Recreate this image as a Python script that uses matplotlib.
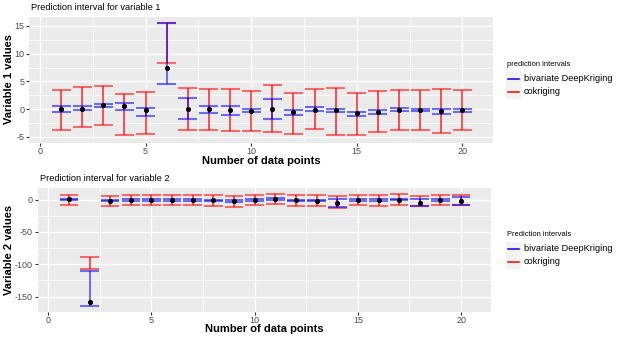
import matplotlib.pyplot as plt
import numpy as np

plt.rcParams['font.family'] = ['Liberation Sans', 'DejaVu Sans']
plt.rcParams['axes.unicode_minus'] = False

# dane
x = np.arange(1, 21)

# zmienna 1
dk1_lo = [-0.6, -0.2, 0.4, -0.2, -1.2, 4.6, -1.8, -0.7, -1.0, -0.6,
          -1.8, -1.0, -0.4, -0.5, -1.3, -0.8, -0.4, -0.3, -0.8, -0.5]
dk1_hi = [0.6, 0.5, 1.0, 1.1, 0.2, 15.5, 2.0, 0.6, 0.5, 0.0,
          1.8, -0.2, 0.4, 0.1, -0.5, -0.1, 0.2, 0.0, 0.1, 0.1]
ck1_lo = [-3.8, -3.2, -2.9, -4.7, -4.5, 8.4, -3.7, -3.8, -3.9, -3.9,
          -4.1, -4.4, -3.6, -4.6, -4.6, -4.2, -3.7, -3.7, -4.3, -3.8]
ck1_hi = [3.5, 4.0, 4.2, 2.7, 3.1, 15.5, 3.8, 3.7, 3.6, 3.3,
          4.3, 2.9, 3.6, 3.8, 2.9, 3.3, 3.4, 3.4, 3.6, 3.5]
pred1 = [0.0, 0.1, 0.7, 0.6, -0.1, 7.4, 0.0, 0.0, -0.1, -0.3,
         0.0, -0.6, -0.1, -0.2, -0.7, -0.5, -0.1, -0.2, -0.3, -0.2]

# zmienna 2
dk2_lo = [-1.0, -164.5, -2.0, -1.5, -1.5, -1.5, -1.5, -2.1, -3.6, -1.5,
          -0.5, -2.1, -2.1, -11.3, -1.5, -1.5, -1.0, -9.8, -1.5, -8.8]
dk2_hi = [1.0, -110.0, -0.5, 0.5, 1.5, 1.0, 1.0, 0.0, -0.5, 0.5,
          2.1, 0.0, 0.0, 1.5, 1.0, 0.5, 1.5, 1.5, 1.0, 4.1]
ck2_lo = [-8.8, -108.0, -10.3, -8.8, -8.2, -8.8, -8.2, -9.8, -11.8, -8.8,
          -7.2, -10.3, -10.3, -12.4, -8.8, -9.3, -7.7, -9.3, -8.8, -8.8]
ck2_hi = [7.7, -89.6, 6.2, 7.2, 7.7, 7.2, 7.7, 7.2, 5.2, 7.2,
          9.3, 6.7, 6.7, 5.2, 7.7, 7.2, 8.2, 5.7, 7.2, 7.2]
pred2 = [0.5, -158.0, -1.5, -0.5, 0.0, -0.5, 0.0, -1.0, -2.1, -0.5,
         0.5, -1.0, -1.5, -5.2, -0.5, -1.0, 0.0, -4.6, -0.5, -2.1]

labels = ['bivariate DeepKriging', 'cokriging']
BLUE = '#0000FF'
RED = '#FF0000'
TXT = '#4D4D4D'

fig = plt.figure(figsize=(6.27, 3.41), dpi=100)
W, H = 627.0, 341.0


def fx(px):
    return px / W


def fy(py):
    return 1 - py / H


def panel(box, lo_b, hi_b, lo_r, hi_r, pred, yl, ymaj, ymin, title, ylabel, ylab_y, xlab_y,
          legtitle, legy):
    l, t, r, b = box
    ax = fig.add_axes([fx(l), fy(b), (r - l) / W, (b - t) / H])
    ax.set_facecolor('#EBEBEB')
    for s in ax.spines.values():
        s.set_visible(False)
    ax.set_xlim(-0.52, 21.45)
    ax.set_ylim(*yl)
    ax.set_xticks([0, 5, 10, 15, 20])
    ax.set_xticks([2.5, 7.5, 12.5, 17.5], minor=True)
    ax.set_yticks(ymaj)
    ax.set_yticks(ymin, minor=True)
    ax.grid(which='major', color='white', lw=1.0)
    ax.grid(which='minor', color='white', lw=0.5)
    ax.set_axisbelow(True)
    ax.tick_params(which='both', length=2.2, color='#333333', labelsize=6.5, labelcolor=TXT, pad=1.0)
    ax.tick_params(which='minor', length=0)

    xs = np.array(x)
    # cokriging
    ax.vlines(xs, lo_r, hi_r, color=RED, lw=1.1, alpha=0.85)
    ax.hlines(lo_r, xs - 0.45, xs + 0.45, color=RED, lw=1.5, alpha=0.55)
    ax.hlines(hi_r, xs - 0.45, xs + 0.45, color=RED, lw=1.5, alpha=0.55)
    # DeepKriging
    ax.vlines(xs, lo_b, hi_b, color=BLUE, lw=1.1, alpha=0.7)
    ax.hlines(lo_b, xs - 0.45, xs + 0.45, color=BLUE, lw=1.5, alpha=0.55)
    ax.hlines(hi_b, xs - 0.45, xs + 0.45, color=BLUE, lw=1.5, alpha=0.55)
    ax.scatter(xs, pred, s=7, color='black', zorder=5)

    # opisy osi
    fig.text(fx((l + r) / 2), fy(xlab_y), 'Number of data points', fontsize=8, fontweight='bold',
             ha='center', va='center')
    fig.text(fx(9.5), fy(ylab_y), ylabel, fontsize=8, fontweight='bold', rotation=90,
             ha='center', va='center')
    fig.text(fx(l + 2), fy(t - 9.5), title, fontsize=6.6, va='center', ha='left')

    # legenda
    fig.text(fx(507), fy(legy), legtitle, fontsize=5.4, va='center', color='black')
    for i, (lab, c) in enumerate(zip(labels, [BLUE, RED])):
        yy = legy + 14.5 + i * 13.4
        fig.patches.append(plt.Rectangle((fx(506), fy(yy + 6.5)), 14 / W, 13 / H,
                                         transform=fig.transFigure, color='#F2F2F2', zorder=1))
        fig.add_artist(plt.Line2D([fx(507.5), fx(519)], [fy(yy), fy(yy)],
                                  color=c, lw=1.1, zorder=2))
        fig.text(fx(524), fy(yy), lab, fontsize=6.6, va='center', color='black')
    return ax


panel((29, 17, 493, 143), dk1_lo, dk1_hi, ck1_lo, ck1_hi, pred1,
      (-6.1, 16.6), [-5, 0, 5, 10, 15], [-2.5, 2.5, 7.5, 12.5],
      'Prediction interval for variable 1', 'Variable 1 values', 79, 161,
      'prediction intervals', 64)
panel((37.5, 188, 491, 312), dk2_lo, dk2_hi, ck2_lo, ck2_hi, pred2,
      (-174, 18), [-150, -100, -50, 0], [-125, -75, -25],
      'Prediction interval for variable 2', 'Variable 2 values', 250, 329,
      'Prediction intervals', 234)

fig.savefig('out.png', dpi=100)
